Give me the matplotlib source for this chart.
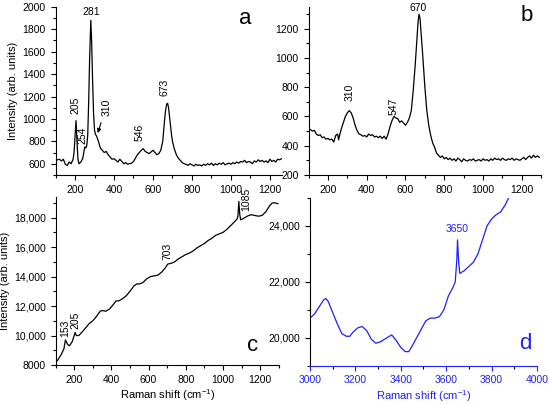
import numpy as np
import matplotlib
matplotlib.use('Agg')
import matplotlib.pyplot as plt
from matplotlib.ticker import MultipleLocator, FuncFormatter

plt.rcParams['font.family'] = ['Liberation Sans', 'DejaVu Sans']
plt.rcParams['mathtext.fontset'] = 'custom'
plt.rcParams['mathtext.rm'] = 'Liberation Sans'

# panel a
xa = [110,120,130,140,150,160,170,180,190,195,200,205,210,215,220,230,240,245,250,255,260,265,270,275,281,285,290,295,
      300,305,310,320,330,340,350,360,370,380,390,400,410,420,430,440,450,460,470,480,490,500,510,520,530,540,550,560,
      570,580,590,600,610,620,630,640,650,655,660,665,670,675,680,685,690,695,700,710,720,730,740,750,760,770,780,790,
      800,810,820,830,840,850,860,870,880,890,900,910,920,930,940,950,960,970,980,990,1000,1010,1020,1030,1040,1050,
      1060,1070,1080,1090,1100,1110,1120,1130,1140,1150,1160,1170,1180,1190,1200,1210,1220,1230,1240,1250,1260]
ya = [635,640,625,640,595,585,615,600,640,700,850,985,800,640,600,615,650,700,750,740,760,850,1150,1550,1880,1700,1350,1050,
      900,860,850,800,740,720,700,710,680,660,640,645,630,615,640,620,600,610,595,600,605,620,650,680,700,720,735,710,
      700,690,705,720,700,680,690,720,800,900,1000,1080,1130,1140,1100,1020,940,860,800,730,680,650,630,610,600,595,585,600,
      590,580,595,585,590,580,595,585,600,590,605,585,600,590,605,595,610,590,600,605,595,610,600,615,605,620,
      615,630,610,620,615,600,625,615,635,620,630,615,625,610,640,620,630,615,640,635,645]
peaks_a = ['205', '254', '310', '546', '673']
peaks_a_pos = [(203, 1120), (236, 850), (360, 1100), (533, 880), (657, 1280)]

# panel b
xb = [110,120,130,140,150,160,170,180,190,200,210,220,230,240,250,255,260,270,280,290,300,310,320,330,340,350,360,370,
      380,390,400,410,420,430,440,450,460,470,480,490,500,510,520,530,540,550,560,570,580,590,600,610,620,630,640,650,
      660,665,670,675,680,690,700,710,720,730,740,750,760,770,780,790,800,810,820,830,840,850,860,870,880,890,900,910,
      920,930,940,950,960,970,980,990,1000,1010,1020,1030,1040,1050,1060,1070,1080,1090,1100,1110,1120,1130,1140,1150,
      1160,1170,1180,1190,1200,1210,1220,1230,1240,1250,1260,1270,1280,1290]
yb = [510,500,505,480,470,475,455,460,445,450,440,445,425,470,480,440,470,520,560,600,625,640,625,590,540,505,480,475,
      465,470,460,480,470,475,460,465,455,465,450,465,445,480,530,570,600,590,585,560,570,555,540,560,590,640,780,950,
      1150,1250,1300,1270,1180,1000,800,640,540,470,420,390,350,335,320,330,310,320,305,315,300,310,295,315,305,290,310,300,
      295,305,300,310,295,300,305,295,310,300,305,295,310,300,315,305,310,300,315,305,300,310,305,315,
      300,310,305,300,310,320,305,320,330,315,335,320,330,320]
peaks_b = ['310', '547']
peaks_b_pos = [(313, 768), (537, 666)]

# panel c
xc = [110,130,145,153,165,175,190,205,212,225,240,260,280,300,320,340,350,370,390,410,425,440,460,480,500,520,535,550,
      570,590,610,630,650,670,690,703,720,740,760,780,800,820,840,860,880,900,920,940,960,980,1000,1020,1040,1060,1075,
      1080,1085,1090,1095,1110,1130,1150,1170,1190,1210,1230,1250,1265,1280,1295]
yc = [8300,8700,9100,9700,9400,9300,9600,10200,10000,10000,10200,10500,10800,11000,11300,11650,11700,11650,11800,12100,
      12350,12350,12500,12700,13000,13350,13500,13500,13600,13850,14000,14050,14100,14300,14600,14850,14900,15000,15200,
      15350,15500,15600,15750,15950,16100,16250,16450,16600,16800,16900,17000,17200,17450,17700,17900,18100,19100,18200,
      17850,17950,18100,18200,18150,18100,18150,18400,18800,19000,19000,18950]
peaks_c = ['153', '205', '703', '1085']
peaks_c_pos = [(150, 10500), (207, 11050), (703, 15700), (1125, 19250)]
yticks_c = [8000, 10000, 12000, 14000, 16000, 18000]
yticklabels_c = ['8000', '10,000', '12,000', '14,000', '16,000', '18,000']

# panel d
xd = [3000,3020,3040,3060,3070,3080,3100,3120,3140,3160,3175,3190,3210,3230,3250,3270,3290,3310,3330,3350,3360,3380,
      3400,3420,3435,3450,3470,3490,3510,3530,3550,3570,3590,3610,3630,3640,3647,3650,3655,3660,3680,3700,3720,3740,
      3760,3780,3800,3820,3840,3860,3875]
yd = [20700,20850,21100,21350,21400,21300,20900,20500,20150,20050,20050,20200,20350,20400,20250,19950,19800,19850,19950,
      20050,20100,19900,19650,19500,19500,19700,20000,20300,20600,20700,20700,20750,21000,21500,21800,22000,22800,23500,
      22700,22300,22400,22550,22700,23000,23500,24000,24250,24400,24500,24750,25000]
yticks_d = [20000, 22000, 24000]
yticklabels_d = ['20,000', '22,000', '24,000']

blue = '#1f1fff'
fs = 7.5

fig = plt.figure(figsize=(5.5, 4.04), dpi=100)

def style(ax, col='black'):
    for s in ['top', 'right']:
        ax.spines[s].set_visible(False)
    ax.spines['left'].set_linewidth(0.8)
    ax.spines['bottom'].set_linewidth(0.8)
    ax.spines['bottom'].set_color(col)
    ax.tick_params(axis='both', which='both', direction='out', labelsize=fs, width=0.8)
    ax.tick_params(axis='both', which='major', length=3.5)
    ax.tick_params(axis='both', which='minor', length=2)
    ax.tick_params(axis='x', colors=col, labelcolor=col)
    ax.set_xlabel('Raman shift (cm$^{-1}$)', fontsize=8, color=col, labelpad=2)

axa = fig.add_axes([0.101, 0.567, 0.411, 0.416])
axa.plot(xa, ya, color='black', lw=0.9)
axa.set_xlim(100, 1260)
axa.set_ylim(500, 2000)
axa.xaxis.set_major_locator(MultipleLocator(200))
axa.xaxis.set_minor_locator(MultipleLocator(100))
axa.yaxis.set_major_locator(MultipleLocator(200))
axa.yaxis.set_minor_locator(MultipleLocator(100))
axa.set_yticks([600, 800, 1000, 1200, 1400, 1600, 1800, 2000])
style(axa)
axa.set_ylabel('Intensity (arb. units)', fontsize=8, labelpad=3)
axa.text(281, 1950, '281', fontsize=fs, ha='center', va='center')
for lab, (px, py) in zip(peaks_a, peaks_a_pos):
    axa.text(px, py, lab, fontsize=fs, rotation=90, ha='center', va='center')
axa.annotate('', xy=(312, 850), xytext=(338, 990),
             arrowprops=dict(arrowstyle='-|>', color='black', lw=0.8, mutation_scale=6))
axa.text(1075, 1900, 'a', fontsize=16, ha='center', va='center')

axb = fig.add_axes([0.561, 0.567, 0.423, 0.416])
axb.plot(xb, yb, color='black', lw=0.9)
axb.set_xlim(100, 1300)
axb.set_ylim(200, 1350)
axb.xaxis.set_major_locator(MultipleLocator(200))
axb.xaxis.set_minor_locator(MultipleLocator(100))
axb.yaxis.set_major_locator(MultipleLocator(200))
axb.yaxis.set_minor_locator(MultipleLocator(100))
style(axb)
axb.text(665, 1345, '670', fontsize=fs, ha='center', va='center')
for lab, (px, py) in zip(peaks_b, peaks_b_pos):
    axb.text(px, py, lab, fontsize=fs, rotation=90, ha='center', va='center')
axb.text(1224, 1290, 'b', fontsize=16, ha='center', va='center')

axc = fig.add_axes([0.101, 0.0965, 0.406, 0.4158])
axc.plot(xc, yc, color='black', lw=0.9)
axc.set_xlim(100, 1300)
axc.set_ylim(8000, 19400)
axc.xaxis.set_major_locator(MultipleLocator(200))
axc.xaxis.set_minor_locator(MultipleLocator(100))
axc.set_yticks(yticks_c)
axc.set_yticklabels(yticklabels_c)
axc.yaxis.set_minor_locator(MultipleLocator(1000))
style(axc)
axc.set_ylabel('Intensity (arb. units)', fontsize=8, labelpad=3)
for lab, (px, py) in zip(peaks_c, peaks_c_pos):
    axc.text(px, py, lab, fontsize=fs, rotation=90, ha='center', va='center')
axc.text(1160, 9350, 'c', fontsize=16, ha='center', va='center')

axd = fig.add_axes([0.5636, 0.095, 0.4127, 0.415])
axd.plot(xd, yd, color=blue, lw=0.9)
axd.set_xlim(3000, 4000)
axd.set_ylim(19000, 25000)
axd.xaxis.set_major_locator(MultipleLocator(200))
axd.xaxis.set_minor_locator(MultipleLocator(100))
axd.set_yticks(yticks_d)
axd.set_yticklabels(yticklabels_d)
axd.yaxis.set_minor_locator(MultipleLocator(1000))
style(axd, blue)
axd.text(3650, 23900, '3650', fontsize=fs, color=blue, ha='center', va='center')
axd.text(3950, 19800, 'd', fontsize=16, color=blue, ha='center', va='center')

fig.savefig('out.png', dpi=100)
